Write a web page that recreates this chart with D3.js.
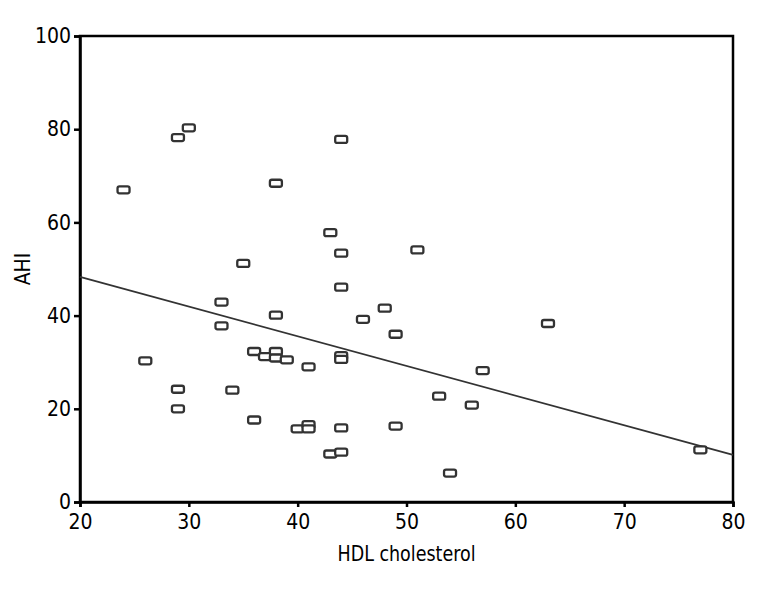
<!DOCTYPE html>
<html>
<head>
<meta charset="utf-8">
<script src="https://cdn.jsdelivr.net/npm/d3@7"></script>
<style>
  body { margin: 0; background: #fff; }
  svg { display: block; }
</style>
</head>
<body>
<svg id="chart" width="771" height="591"></svg>
<script>
// HDL cholesterol vs AHI
const hdl = [24, 29, 30, 44, 38, 43, 44, 51, 35, 33, 33, 38, 44, 46, 48, 49, 63, 57,
  26, 36, 37, 38, 38, 39, 41, 44, 44, 29, 29, 34, 36, 40, 41, 41, 44, 49, 43, 44, 54, 53, 56, 77];
const ahi = [67, 78.2, 80.3, 77.8, 68.4, 57.8, 53.4, 54.1, 51.2, 42.9, 37.8, 40.1, 46.1, 39.2, 41.6, 36, 38.3, 28.2,
  30.3, 32.3, 31.2, 32.3, 30.9, 30.5, 29, 31.4, 30.6, 24.2, 20, 24, 17.6, 15.7, 16.6, 15.7, 15.9, 16.3, 10.3, 10.7, 6.2, 22.7, 20.8, 11.2];
// fitted line endpoints (x, y)
const fitX = [20, 80];
const fitY = [48.3, 10.1];
const xTicks = [20, 30, 40, 50, 60, 70, 80];
const yTicks = [0, 20, 40, 60, 80, 100];

const margens = { left: 80, right: 38, top: 36, bottom: 89 };
const svg = d3.select("#chart");
const width = 771 - margens.left - margens.right;
const height = 591 - margens.top - margens.bottom;
const font = "'Liberation Sans Narrow', 'DejaVu Sans Condensed', sans-serif";

const x = d3.scaleLinear().domain([20, 80]).range([0, width]);
const y = d3.scaleLinear().domain([0, 100]).range([height, 0]);

const g = svg.append("g")
  .attr("transform", `translate(${margens.left},${margens.top})`);

// moldura
g.append("rect")
  .attr("width", width)
  .attr("height", height)
  .attr("fill", "none")
  .attr("stroke", "#000")
  .attr("stroke-width", 2.5);

const xAxis = g.append("g")
  .attr("transform", `translate(0,${height})`)
  .call(d3.axisBottom(x).tickValues(xTicks).tickSize(5).tickPadding(7));
const yAxis = g.append("g")
  .call(d3.axisLeft(y).tickValues(yTicks).tickSize(6).tickPadding(3));

[xAxis, yAxis].forEach(a => {
  a.select(".domain").attr("stroke-width", 2.5);
  a.selectAll(".tick line").attr("stroke-width", 2.5);
  a.selectAll(".tick text")
    .attr("font-family", font)
    .attr("font-size", 21)
    .attr("fill", "#000");
});

// linha de ajuste
g.append("path")
  .datum(fitX.map((v, i) => [v, fitY[i]]))
  .attr("fill", "none")
  .attr("stroke", "#333")
  .attr("stroke-width", 1.8)
  .attr("d", d3.line().x(d => x(d[0])).y(d => y(d[1])));

// pontos
const pts = hdl.map((v, i) => ({ hdl: v, ahi: ahi[i] }));
g.selectAll(".pt")
  .data(pts)
  .enter()
  .append("rect")
  .attr("class", "pt")
  .attr("x", d => x(d.hdl) - 6)
  .attr("y", d => y(d.ahi) - 3.5)
  .attr("width", 12)
  .attr("height", 7)
  .attr("rx", 2)
  .attr("fill", "#fff")
  .attr("stroke", "#333")
  .attr("stroke-width", 2.3);

// títulos
svg.append("text")
  .attr("x", margens.left + width / 2)
  .attr("y", 561)
  .attr("text-anchor", "middle")
  .attr("font-family", font)
  .attr("font-size", 21)
  .attr("textLength", 138)
  .attr("lengthAdjust", "spacingAndGlyphs")
  .text("HDL cholesterol");

svg.append("text")
  .attr("transform", `translate(30,${margens.top + height / 2}) rotate(-90)`)
  .attr("text-anchor", "middle")
  .attr("font-family", font)
  .attr("font-size", 21)
  .text("AHI");
</script>
</body>
</html>
